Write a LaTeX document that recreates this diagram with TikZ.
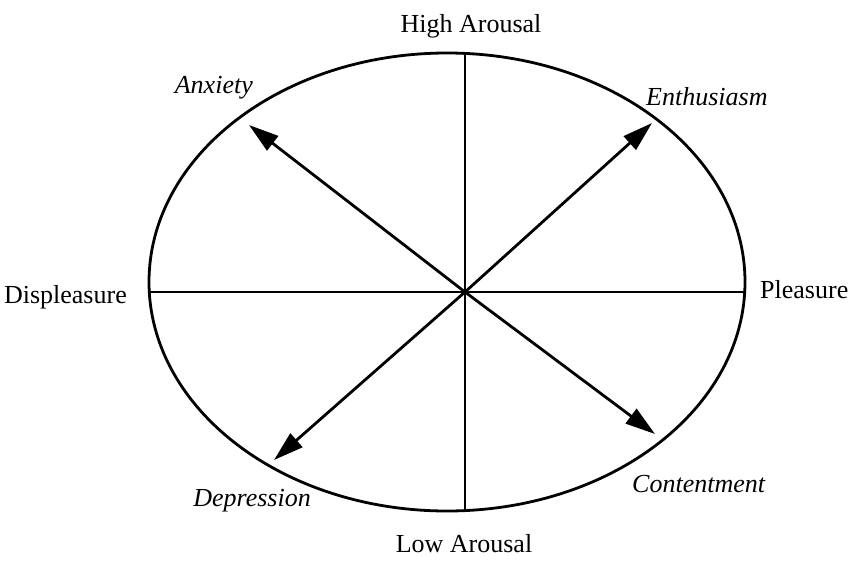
\documentclass[tikz,border=0pt]{standalone}
\usepackage{fontspec}
\setmainfont{Liberation Serif}
\usepackage{tikz}
\usetikzlibrary{arrows.meta}

\begin{document}
\begin{tikzpicture}[
  x=1pt, y=-1pt,
  linea/.style={line width=2.8pt, line cap=round},
  flecha/.style={linea, -{Triangle[length=30pt, width=18pt]}},
  eje/.style={font=\fontsize{26}{30}\selectfont, inner sep=0pt},
  emocion/.style={font=\fontsize{26}{30}\selectfont\itshape, inner sep=0pt},
]
\useasboundingbox (0,0) rectangle (851,560);
% --- Circunferencia y ejes ---------------------------------------------------
\draw[linea] (447,282) ellipse [x radius=298pt, y radius=229pt];
\coordinate (centro) at (465,292);
\coordinate (arriba) at (465,53.4);
\coordinate (abajo) at (465,510.6);
\coordinate (izq) at (149.3,292);
\coordinate (der) at (744.7,292);
\draw[linea] (arriba) -- (abajo);
\draw[linea] (izq) -- (der);
% --- Flechas diagonales --------------------------------------------------------
\coordinate (pAnsiedad) at (249,125);
\coordinate (pEntusiasmo) at (652,123);
\coordinate (pDepresion) at (274,460);
\coordinate (pSatisfaccion) at (655,434);
\foreach \p in {pAnsiedad, pEntusiasmo, pDepresion, pSatisfaccion}
  \draw[flecha] (centro) -- (\p);
% --- Rotulos de los ejes ----------------------------------------------------------
\node[eje, anchor=base] (alto) at (471,32) {High Arousal};
\node[eje, anchor=base] (bajo) at (464,552) {Low Arousal};
\node[eje, anchor=base east] (desagrado) at (127,303) {Displeasure};
\node[eje, anchor=base west] (agrado) at (760,298) {Pleasure};
% --- Rotulos de las emociones ----------------------------------------------------
\node[emocion, anchor=base east] (ansiedad) at (253,93) {Anxiety};
\node[emocion, anchor=base west] (entusiasmo) at (646,105) {Enthusiasm};
\node[emocion, anchor=base east] (depresion) at (311,506) {Depression};
\node[emocion, anchor=base west] (satisfaccion) at (632,492) {Contentment};
\end{tikzpicture}
\end{document}
